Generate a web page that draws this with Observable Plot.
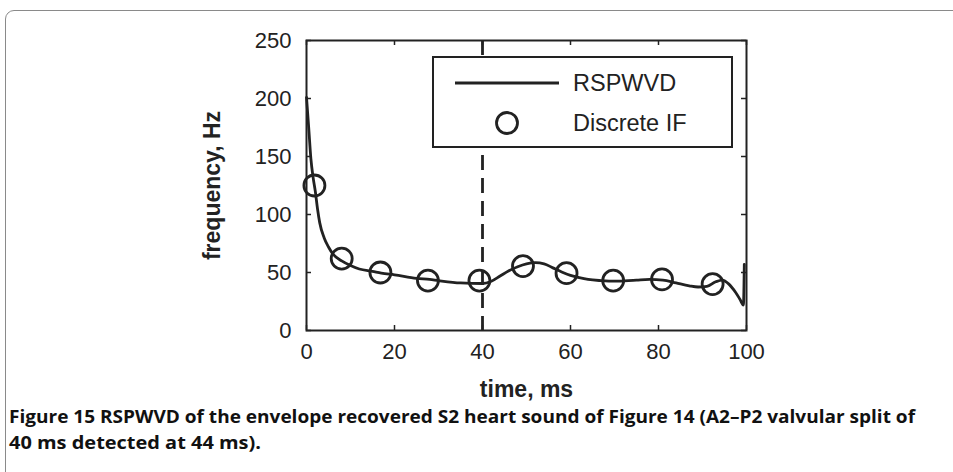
<!DOCTYPE html>
<html><head><meta charset="utf-8">
<script src="https://cdn.jsdelivr.net/npm/d3@7"></script>
<script src="https://cdn.jsdelivr.net/npm/@observablehq/plot@0.6"></script>
<style>
body{margin:0;background:#fff;}
#wrap{position:relative;width:953px;height:472px;overflow:hidden;background:#fff;}
#border{position:absolute;left:5px;top:10px;width:1000px;height:520px;border:1.5px solid #8a8a8a;border-radius:9px;}
#chart{position:absolute;left:0;top:0;}
#legend{position:absolute;left:0;top:0;}
#caption{position:absolute;left:0;top:400px;}
</style></head><body>
<div id="wrap"><div id="border"></div><div id="chart"></div>
<svg id="legend" width="953" height="400"></svg>
<svg id="caption" width="953" height="72"></svg>
</div>
<script>
const xTicks = [0, 20, 40, 60, 80, 100];
const yTicks = [0, 50, 100, 150, 200, 250];
const curveX = [0, 0.5, 1, 1.5, 2, 2.5, 3, 4, 5, 6, 8, 10, 12, 15, 17, 20, 25, 28, 30, 35, 40, 42, 44, 46, 48, 50, 52, 54, 56, 58, 60, 62, 64, 67, 70, 75, 78, 81, 84, 87, 89, 91, 93, 94.5, 96, 97.5, 98.5, 99.3, 99.5];
const curveY = [201, 175, 148, 132, 120, 105, 93, 80, 72, 66, 60, 56, 53, 51, 49.5, 48, 45, 44, 43, 41, 40.5, 42.5, 47, 51.5, 55, 57.5, 58.5, 57.5, 54, 50.5, 47.5, 45.5, 44, 43, 42.5, 43.5, 44, 43.5, 41, 38.5, 37.5, 38, 42, 43.5, 40, 33, 27, 22, 57];
const ifX = [1.8, 8, 16.8, 27.6, 39.3, 49.2, 59.1, 69.7, 80.8, 92.3];
const ifY = [125, 62, 50, 43, 43, 55.5, 49.4, 43, 44, 40];
const splitX = [40];
const legendLabels = ["RSPWVD", "Discrete IF"];
const xLabel = "time, ms";
const yLabel = "frequency, Hz";
const captionLines = ["Figure 15 RSPWVD of the envelope recovered S2 heart sound of Figure 14 (A2\u2013P2 valvular split of", "40 ms detected at 44 ms)."];

const ink = "#222";
const curve = curveX.map((x, i) => ({x, y: curveY[i]}));
const pts = ifX.map((x, i) => ({x, y: ifY[i]}));

const plot = Plot.plot({
  width: 953, height: 400,
  marginTop: 40, marginBottom: 70, marginLeft: 306, marginRight: 207,
  x: {domain: [0, 100]},
  y: {domain: [0, 250]},
  style: {fontFamily: "'Liberation Sans', Arial, sans-serif", fontSize: "22px", color: ink, background: "transparent", overflow: "visible"},
  marks: [
    Plot.ruleX(splitX, {x: d => d, stroke: ink, strokeWidth: 2.8, strokeDasharray: "15,8"}),
    Plot.line(curve, {x: "x", y: "y", stroke: ink, strokeWidth: 2.8, curve: "monotone-x"}),
    Plot.dot(pts, {x: "x", y: "y", r: 10.5, stroke: ink, strokeWidth: 2.8, fill: "none"}),
    Plot.ruleX(xTicks, {x: d => d, insetTop: 285, stroke: ink, strokeWidth: 1.5}),
    Plot.ruleX(xTicks, {x: d => d, insetBottom: 285, stroke: ink, strokeWidth: 1.5}),
    Plot.ruleY(yTicks, {y: d => d, insetRight: 435, stroke: ink, strokeWidth: 1.5}),
    Plot.ruleY(yTicks, {y: d => d, insetLeft: 435, stroke: ink, strokeWidth: 1.5}),
    Plot.frame({stroke: ink, strokeWidth: 2}),
    Plot.axisX(xTicks, {tickSize: 0, tickPadding: 13, label: null, fontSize: 22}),
    Plot.axisY(yTicks, {tickSize: 0, tickPadding: 15, label: null, fontSize: 22}),
    Plot.text([xLabel], {text: d => d, frameAnchor: "bottom", dy: 66, fontWeight: "bold", fontSize: 23}),
    Plot.text([yLabel], {text: d => d, frameAnchor: "left", textAnchor: "middle", dx: -94, rotate: -90, fontWeight: "bold", fontSize: 23})
  ]
});
document.getElementById("chart").appendChild(plot);

// legend
const lg = d3.select("#legend");
lg.append("rect").attr("x", 433).attr("y", 57).attr("width", 299).attr("height", 90)
  .attr("fill", "#fff").attr("stroke", ink).attr("stroke-width", 2);
lg.append("line").attr("x1", 455).attr("x2", 559).attr("y1", 83).attr("y2", 83)
  .attr("stroke", ink).attr("stroke-width", 2.8);
lg.append("circle").attr("cx", 507).attr("cy", 123).attr("r", 10.5)
  .attr("fill", "none").attr("stroke", ink).attr("stroke-width", 2.8);
legendLabels.forEach((t, i) => {
  lg.append("text").attr("x", 573).attr("y", 83 + i * 40).attr("dy", "0.35em")
    .attr("font-family", "'Liberation Sans', Arial, sans-serif").attr("font-size", 23.5)
    .attr("fill", ink).text(t);
});

// caption
const cp = d3.select("#caption");
const widths = [906, 252];
captionLines.forEach((t, i) => {
  cp.append("text").attr("x", 9).attr("y", 23 + i * 26)
    .attr("font-family", "'Open Sans', sans-serif").attr("font-weight", "bold").attr("font-size", 17)
    .attr("textLength", widths[i]).attr("lengthAdjust", "spacingAndGlyphs")
    .attr("fill", "#111").text(t);
});
</script>
</body></html>
